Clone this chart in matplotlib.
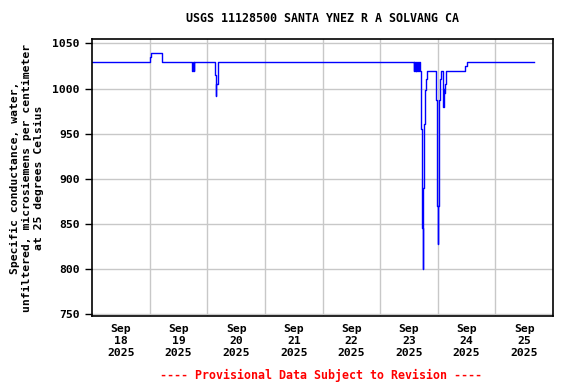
import matplotlib
matplotlib.use("Agg")
import matplotlib.pyplot as plt
import pandas as pd

# Datos (conductancia específica, uS/cm a 25 C)
tiempos = [
    "2025-09-18 00:00", "2025-09-19 00:00", "2025-09-19 00:30", "2025-09-19 05:00",
    "2025-09-19 17:30", "2025-09-19 17:50", "2025-09-19 18:15", "2025-09-19 18:35",
    "2025-09-20 03:00", "2025-09-20 03:30", "2025-09-20 03:45", "2025-09-20 04:15",
    "2025-09-23 14:00", "2025-09-23 14:15", "2025-09-23 14:30", "2025-09-23 14:45",
    "2025-09-23 15:00", "2025-09-23 15:30", "2025-09-23 15:45", "2025-09-23 16:00",
    "2025-09-23 16:30", "2025-09-23 17:00", "2025-09-23 17:15", "2025-09-23 17:30",
    "2025-09-23 17:45", "2025-09-23 18:00", "2025-09-23 18:15", "2025-09-23 18:30",
    "2025-09-23 18:45", "2025-09-23 19:00", "2025-09-23 19:30", "2025-09-23 23:15",
    "2025-09-23 23:30", "2025-09-23 23:45", "2025-09-24 00:00", "2025-09-24 00:15",
    "2025-09-24 00:30", "2025-09-24 01:00", "2025-09-24 01:30", "2025-09-24 02:15",
    "2025-09-24 02:30", "2025-09-24 02:45", "2025-09-24 03:00", "2025-09-24 03:30",
    "2025-09-24 11:15", "2025-09-24 12:00", "2025-09-25 16:00",
]
valores = [
    1030, 1035, 1040, 1030,
    1020, 1030, 1020, 1030,
    1015, 992, 1005, 1030,
    1020, 1030, 1020, 1030,
    1020, 1030, 1020, 1030,
    1020, 955, 890, 845,
    800, 890, 961, 983,
    998, 1011, 1020, 987,
    945, 870, 827, 870,
    987, 1011, 1020, 980,
    1000, 995, 1005, 1020,
    1025, 1030, 1030,
]
dias = ["2025-09-18", "2025-09-19", "2025-09-20", "2025-09-21",
        "2025-09-22", "2025-09-23", "2025-09-24", "2025-09-25"]
y_ticks = [750, 800, 850, 900, 950, 1000, 1050]

t = pd.to_datetime(tiempos)
inicio_dias = pd.to_datetime(dias)

fuente = "DejaVu Sans Mono"
fig = plt.figure(figsize=(5.76, 3.84), dpi=100)
ax = fig.add_axes([0.16, 0.177, 0.80, 0.721])

ax.plot(t, valores, color="blue", linewidth=1.0, drawstyle="steps-post")

ax.set_xlim(inicio_dias[0], inicio_dias[-1] + pd.Timedelta(days=1))
ax.set_ylim(747.5, 1054.8)

# Rejilla en medianoche, etiquetas al mediodía
ax.set_xticks(list(inicio_dias[1:]))
ax.set_xticklabels([])
ax.set_xticks(list(inicio_dias + pd.Timedelta(hours=12)), minor=True)
ax.set_xticklabels([d.strftime("%b\n%d\n%Y") for d in inicio_dias], minor=True,
                   fontfamily=fuente, fontweight="bold", fontsize=8.2, linespacing=1.2)
ax.tick_params(axis="x", which="both", length=0, pad=6)

ax.set_yticks(y_ticks)
ax.set_yticklabels([str(v) for v in y_ticks], fontfamily=fuente, fontweight="bold", fontsize=8.2)
ax.tick_params(axis="y", length=5, width=1, pad=4)

ax.grid(True, which="major", color="#c8c8c8", linewidth=1)
ax.set_axisbelow(True)
for s in ax.spines.values():
    s.set_linewidth(1.2)

ax.set_ylabel("Specific conductance, water,\nunfiltered, microsiemens per centimeter\nat 25 degrees Celsius",
              fontfamily=fuente, fontweight="bold", fontsize=8.2, linespacing=1.25, labelpad=6)

fig.text(0.56, 0.952, "USGS 11128500 SANTA YNEZ R A SOLVANG CA", ha="center", va="center",
         fontfamily=fuente, fontweight="bold", fontsize=8.4)
fig.text(0.558, 0.023, "---- Provisional Data Subject to Revision ----", ha="center", va="center",
         fontfamily=fuente, fontweight="bold", fontsize=8.4, color="red")

fig.savefig("out.png", dpi=100)
